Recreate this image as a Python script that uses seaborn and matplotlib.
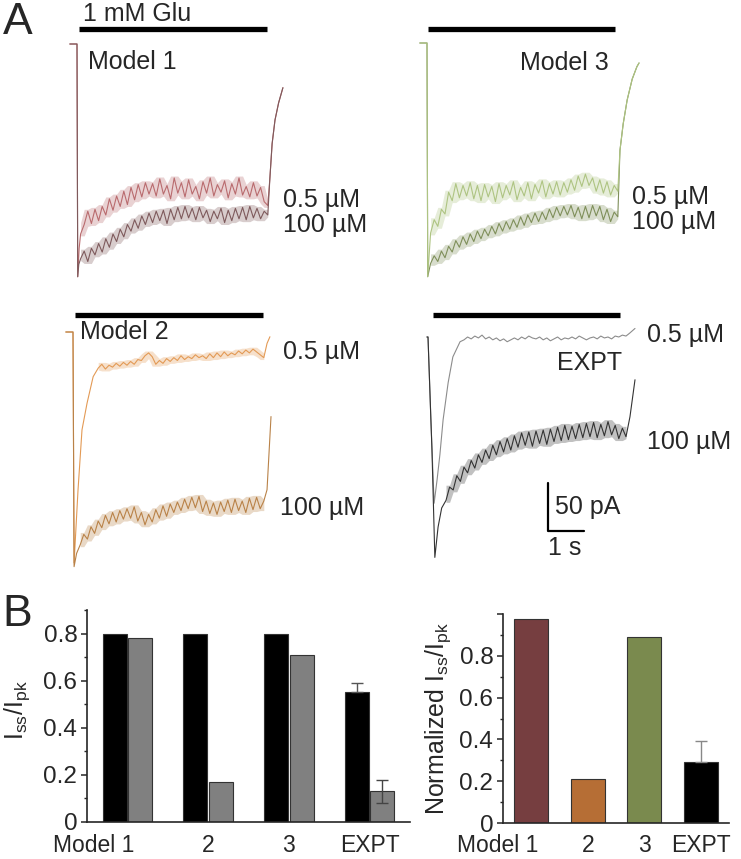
import numpy as np
import pandas as pd
import matplotlib
matplotlib.use("Agg")
import matplotlib.pyplot as plt
import matplotlib.transforms as mtransforms
import seaborn as sns

W, H = 741, 859
PX_PER_S = 36.0            # 1 s scale bar = 36 px
PX_PER_PA = 47.5 / 50.0    # 50 pA scale bar = 47.5 px

# ---------------- Panel A: current traces (time in s, current in pA) ----------------
# Model 1
m1_low_head_t = [-0.2, 0.0, 0.02, 0.06]
m1_low_head_i = [0, 0, -245, -215]
m1_low_start = 0.1
m1_low_plateau = [-200, -190, -176, -189, -174, -186, -171, -180, -163, -175,
                  -160, -171, -155, -169, -151, -164, -148, -161, -146, -158,
                  -147, -160, -142, -158, -149, -163, -141, -157, -146, -161,
                  -143, -158, -150, -163, -145, -157, -141, -160, -148, -156,
                  -144, -162, -147, -158, -141, -159, -150, -161, -146, -160,
                  -151, -166, -170]
m1_low_tail_t = [5.36, 5.42, 5.5, 5.6, 5.72]
m1_low_tail_i = [-140, -105, -80, -62, -46]

m1_high_head_t = [-0.2, 0.0, 0.02, 0.05]
m1_high_head_i = [0, 0, -245, -232]
m1_high_start = 0.1
m1_high_plateau = [-226, -218, -229, -215, -222, -210, -219, -205, -214, -200,
                   -208, -195, -203, -190, -197, -185, -194, -181, -190, -178,
                   -188, -176, -186, -175, -189, -174, -185, -172, -184, -171,
                   -183, -173, -185, -172, -183, -175, -187, -176, -184, -173,
                   -188, -175, -186, -173, -184, -172, -185, -171, -183, -173,
                   -184, -176, -180]
m1_high_tail_t = [5.36, 5.42, 5.5, 5.6, 5.72]
m1_high_tail_i = [-140, -105, -80, -62, -46]

# Model 3
m3_low_head_t = [-0.2, 0.0, 0.02]
m3_low_head_i = [0, 0, -246]
m3_low_start = 0.1
m3_low_plateau = [-200, -186, -193, -175, -180, -157, -166, -148, -163, -150,
                  -161, -147, -164, -150, -166, -149, -162, -151, -167, -148,
                  -163, -150, -160, -146, -165, -152, -161, -147, -164, -149,
                  -158, -145, -162, -148, -159, -146, -160, -147, -157, -144,
                  -155, -140, -151, -138, -150, -142, -156, -144, -158, -146,
                  -160, -150, -156]
m3_low_tail_t = [5.36, 5.45, 5.56, 5.7, 5.83, 5.89]
m3_low_tail_i = [-113, -85, -60, -38, -25, -21]

m3_high_head_t = [-0.2, 0.0, 0.02]
m3_high_head_i = [0, 0, -246]
m3_high_start = 0.1
m3_high_plateau = [-232, -224, -230, -219, -226, -214, -220, -208, -215, -204,
                   -212, -201, -209, -198, -206, -196, -203, -193, -201, -190,
                   -198, -188, -196, -186, -194, -183, -192, -181, -189, -179,
                   -188, -178, -186, -175, -184, -173, -182, -172, -181, -171,
                   -183, -173, -185, -172, -184, -171, -182, -172, -186, -175,
                   -188, -178, -183]
m3_high_tail_t = [5.36, 5.45, 5.56, 5.7, 5.83, 5.89]
m3_high_tail_i = [-113, -85, -60, -38, -25, -21]

# Model 2
m2_low_head_t = [-0.2, 0.0, 0.03, 0.14, 0.25, 0.39, 0.56]
m2_low_head_i = [0, 0, -243, -166, -103, -75, -47]
m2_low_start = 0.7
m2_low_plateau = [-38, -34, -39, -35, -37, -33, -36, -32, -35, -31,
                  -34, -29, -30, -25, -22, -26, -34, -30, -33, -28,
                  -31, -27, -30, -25, -29, -26, -28, -24, -27, -25,
                  -28, -23, -27, -22, -26, -21, -25, -22, -24, -20,
                  -23, -19, -22, -18, -21, -24, -27]
m2_low_tail_t = [5.39, 5.47]
m2_low_tail_i = [-12, -5]

m2_high_head_t = [-0.2, 0.0, 0.03, 0.1]
m2_high_head_i = [0, 0, -247, -233]
m2_high_start = 0.2
m2_high_plateau = [-224, -213, -218, -205, -212, -199, -206, -193, -202, -190,
                   -200, -188, -197, -186, -196, -184, -199, -190, -203, -192,
                   -200, -187, -196, -183, -194, -181, -190, -179, -188, -176,
                   -186, -174, -185, -173, -189, -178, -191, -180, -192, -179,
                   -189, -177, -190, -176, -188, -178, -190, -175, -187, -174,
                   -186, -178]
m2_high_tail_t = [5.39, 5.5]
m2_high_tail_i = [-166, -89]

# Experiment
ex_low_head_t = [-0.03, 0.0, 0.08, 0.17, 0.25, 0.33, 0.42, 0.56, 0.69, 0.89]
ex_low_head_i = [0, 0, -87, -175, -151, -124, -87, -48, -21, -5]
ex_low_start = 1.0
ex_low_plateau = [-3, 0, -2, 1, -1, 2, -2, 0, -3, -1,
                  -4, -2, -5, -3, -1, -3, 0, -2, 1, -1,
                  -2, 0, -3, -1, -4, -2, 0, -3, -1, -2,
                  0, -2, 1, -1, -3, -1, 0, -2, 1, -1,
                  0, -2, 1, 0, 2, 1]
ex_low_tail_t = [5.6, 5.75]
ex_low_tail_i = [4, 9]

ex_high_head_t = [-0.03, 0.0, 0.11, 0.19, 0.28, 0.38]
ex_high_head_i = [0, 0, -119, -232, -200, -180]
ex_high_start = 0.5
ex_high_plateau = [-172, -158, -161, -146, -152, -137, -143, -130, -138, -124,
                   -132, -119, -128, -114, -124, -110, -121, -107, -119, -104,
                   -116, -101, -114, -100, -115, -99, -112, -98, -113, -97,
                   -110, -95, -109, -93, -108, -94, -107, -92, -106, -91,
                   -105, -90, -106, -92, -104, -89, -103, -93, -107, -96, -105]
ex_high_tail_t = [5.61, 5.75]
ex_high_tail_i = [-84, -45]

# glutamate application bars (s) and their height above baseline (pA)
glu_on = [0.06, 0.03, 0.06, 0.14]
glu_off = [5.28, 5.22, 5.28, 5.33]
glu_level = [16, 15, 18, 23]

# scale bar (EXPT panel)
sb_t, sb_i = 3.33, -204
sb_dt, sb_di = 1.0, 50

# ---------------- Panel B ----------------
groups = ["Model 1", "2", "3", "EXPT"]
ratio_low = [0.80, 0.80, 0.80, 0.55]     # 0.5 uM (black)
ratio_high = [0.78, 0.17, 0.71, 0.13]    # 100 uM (grey)
err_low = [0, 0, 0, 0.04]
err_high = [0, 0, 0, 0.05]
norm_ratio = [0.978, 0.211, 0.889, 0.294]
norm_err = [0, 0, 0, 0.10]
norm_colors = ["#7f3538", "#cc6b1f", "#7f9444", "#000000"]

sns.set_style("ticks")
plt.rcParams["font.family"] = ["Liberation Sans", "DejaVu Sans"]
plt.rcParams["mathtext.default"] = "regular"
plt.rcParams["axes.linewidth"] = 1.2

fig = plt.figure(figsize=(W / 100, H / 100), dpi=100)


def px_rect(left, top, right, bottom):
    return [left / W, 1 - bottom / H, (right - left) / W, (bottom - top) / H]


def trace_axes(x0, y0, left, top, right, bottom):
    ax = fig.add_axes(px_rect(left, top, right, bottom))
    ax.set_xlim((left - x0) / PX_PER_S, (right - x0) / PX_PER_S)
    ax.set_ylim(-(bottom - y0) / PX_PER_PA, (y0 - top) / PX_PER_PA)
    ax.axis("off")
    return ax


def draw_trace(ax, head_t, head_i, start, plateau, tail_t, tail_i, color, band=True):
    p = np.asarray(plateau, dtype=float)
    pt = start + 0.1 * np.arange(len(p))
    df = pd.DataFrame({"t": np.concatenate([head_t, pt, tail_t]),
                       "i": np.concatenate([head_i, p, tail_i])})
    if band:
        # shaded envelope of the noisy samples (neighbour min / max)
        nb = np.vstack([p, np.r_[p[0], p[:-1]], np.r_[p[1:], p[-1]]])
        ax.fill_between(pt, nb.min(axis=0) - 2, nb.max(axis=0) + 2,
                        color=color, alpha=0.3, lw=0)
    sns.lineplot(data=df, x="t", y="i", ax=ax, color=color, lw=0.8,
                 sort=False, estimator=None)


def label(x, y, s, size=18, ha="left"):
    fig.text(x / W, 1 - y / H, s, fontsize=size, ha=ha, va="center")


ax1 = trace_axes(77, 44, 60, 20, 300, 290)
draw_trace(ax1, m1_low_head_t, m1_low_head_i, m1_low_start, m1_low_plateau,
           m1_low_tail_t, m1_low_tail_i, "#b96b6e")
draw_trace(ax1, m1_high_head_t, m1_high_head_i, m1_high_start, m1_high_plateau,
           m1_high_tail_t, m1_high_tail_i, "#7e5a5c")

ax3 = trace_axes(427, 43, 410, 20, 660, 290)
draw_trace(ax3, m3_high_head_t, m3_high_head_i, m3_high_start, m3_high_plateau,
           m3_high_tail_t, m3_high_tail_i, "#7f8f5a")
draw_trace(ax3, m3_low_head_t, m3_low_head_i, m3_low_start, m3_low_plateau,
           m3_low_tail_t, m3_low_tail_i, "#aec482")

ax2 = trace_axes(73, 332, 55, 305, 300, 580)
draw_trace(ax2, m2_low_head_t, m2_low_head_i, m2_low_start, m2_low_plateau,
           m2_low_tail_t, m2_low_tail_i, "#e39a55")
draw_trace(ax2, m2_high_head_t, m2_high_head_i, m2_high_start, m2_high_plateau,
           m2_high_tail_t, m2_high_tail_i, "#b98248")

axe = trace_axes(428, 337, 410, 305, 660, 580)
draw_trace(axe, ex_low_head_t, ex_low_head_i, ex_low_start, ex_low_plateau,
           ex_low_tail_t, ex_low_tail_i, "#8c8c8c", band=False)
draw_trace(axe, ex_high_head_t, ex_high_head_i, ex_high_start, ex_high_plateau,
           ex_high_tail_t, ex_high_tail_i, "#333333")
axe.plot([sb_t, sb_t, sb_t + sb_dt], [sb_i + sb_di, sb_i, sb_i], color="k", lw=1.6)

for ax, on, off, lvl in zip([ax1, ax3, ax2, axe], glu_on, glu_off, glu_level):
    ax.plot([on, off], [lvl, lvl], color="k", lw=3.8, solid_capstyle="butt")

label(3, 22, "A", size=32)
label(83, 14, "1 mM Glu")
label(88, 62, "Model 1")
label(283, 200, "0.5 µM")
label(283, 225, "100 µM")
label(520, 63, "Model 3")
label(632, 197, "0.5 µM")
label(632, 222, "100 µM")
label(80, 332, "Model 2")
label(283, 352, "0.5 µM")
label(280, 508, "100 µM")
label(647, 335, "0.5 µM")
label(557, 363, "EXPT")
label(647, 442, "100 µM")
label(555, 507, "50 pA")
label(548, 548, "1 s")
label(2, 615, "B", size=32)

# ---------------- Panel B left: grouped bars ----------------
axL = fig.add_axes(px_rect(87, 610, 410, 822))
df_b = pd.DataFrame({"group": groups * 2,
                     "cond": ["0.5 µM"] * 4 + ["100 µM"] * 4,
                     "val": ratio_low + ratio_high})
sns.barplot(data=df_b, x="group", y="val", hue="cond", order=groups,
            palette=["#000000", "#808080"], width=0.63, gap=0.06,
            edgecolor="#333333", linewidth=0.8, errorbar=None, legend=False, ax=axL)
off = 0.63 / 4
xs = np.arange(len(groups))
for k in range(len(groups)):
    if err_low[k] > 0:
        axL.errorbar(xs[k] - off, ratio_low[k], yerr=[[0], [err_low[k]]],
                     fmt="none", ecolor="#555555", elinewidth=1, capsize=4, capthick=1)
    if err_high[k] > 0:
        axL.errorbar(xs[k] + off, ratio_high[k], yerr=err_high[k],
                     fmt="none", ecolor="#444444", elinewidth=1, capsize=4, capthick=1)
axL.set_xlim(-0.5, 3.5)
axL.set_ylim(0, 0.9)
axL.set_yticks([0, 0.2, 0.4, 0.6, 0.8], ["0", "0.2", "0.4", "0.6", "0.8"])
axL.set_yticks([0.1, 0.3, 0.5, 0.7, 0.9], minor=True)
axL.set_xlabel("")
axL.set_ylabel("I$_{ss}$/I$_{pk}$", fontsize=18)
axL.yaxis.set_label_coords(-0.17, 0.53)

# ---------------- Panel B right: normalized ----------------
axR = fig.add_axes(px_rect(503, 614, 729, 823))
sns.barplot(x=groups, y=norm_ratio, hue=groups, palette=norm_colors, width=0.61,
            edgecolor="#333333", linewidth=0.8, legend=False, ax=axR)
for k in range(len(groups)):
    if norm_err[k] > 0:
        axR.errorbar(xs[k], norm_ratio[k], yerr=[[0], [norm_err[k]]],
                     fmt="none", ecolor="#888888", elinewidth=1, capsize=4, capthick=1)
axR.set_xlim(-0.5, 3.5)
axR.set_ylim(0, 1.0)
axR.set_yticks([0, 0.2, 0.4, 0.6, 0.8, 1.0], ["0", "0.2", "0.4", "0.6", "0.8", ""])
axR.set_yticks([0.1, 0.3, 0.5, 0.7, 0.9], minor=True)
axR.set_ylabel("Normalized I$_{ss}$/I$_{pk}$", fontsize=18)
axR.yaxis.set_label_coords(-0.22, 0.5)

for ax, xpad in ((axL, 9), (axR, 8)):
    sns.despine(ax=ax)
    ax.tick_params(axis="y", which="major", length=4, width=1.1, labelsize=17.5, pad=3)
    ax.tick_params(axis="y", which="minor", length=2.5, width=1)
    ax.tick_params(axis="x", length=0, labelsize=16.5, pad=xpad)
    ax.set_xticks(xs, groups)
    lab = ax.get_xticklabels()[0]
    lab.set_horizontalalignment("right")
    lab.set_transform(lab.get_transform() +
                      mtransforms.ScaledTranslation(7 / 100, 0, fig.dpi_scale_trans))

fig.savefig("out.png", dpi=100)
